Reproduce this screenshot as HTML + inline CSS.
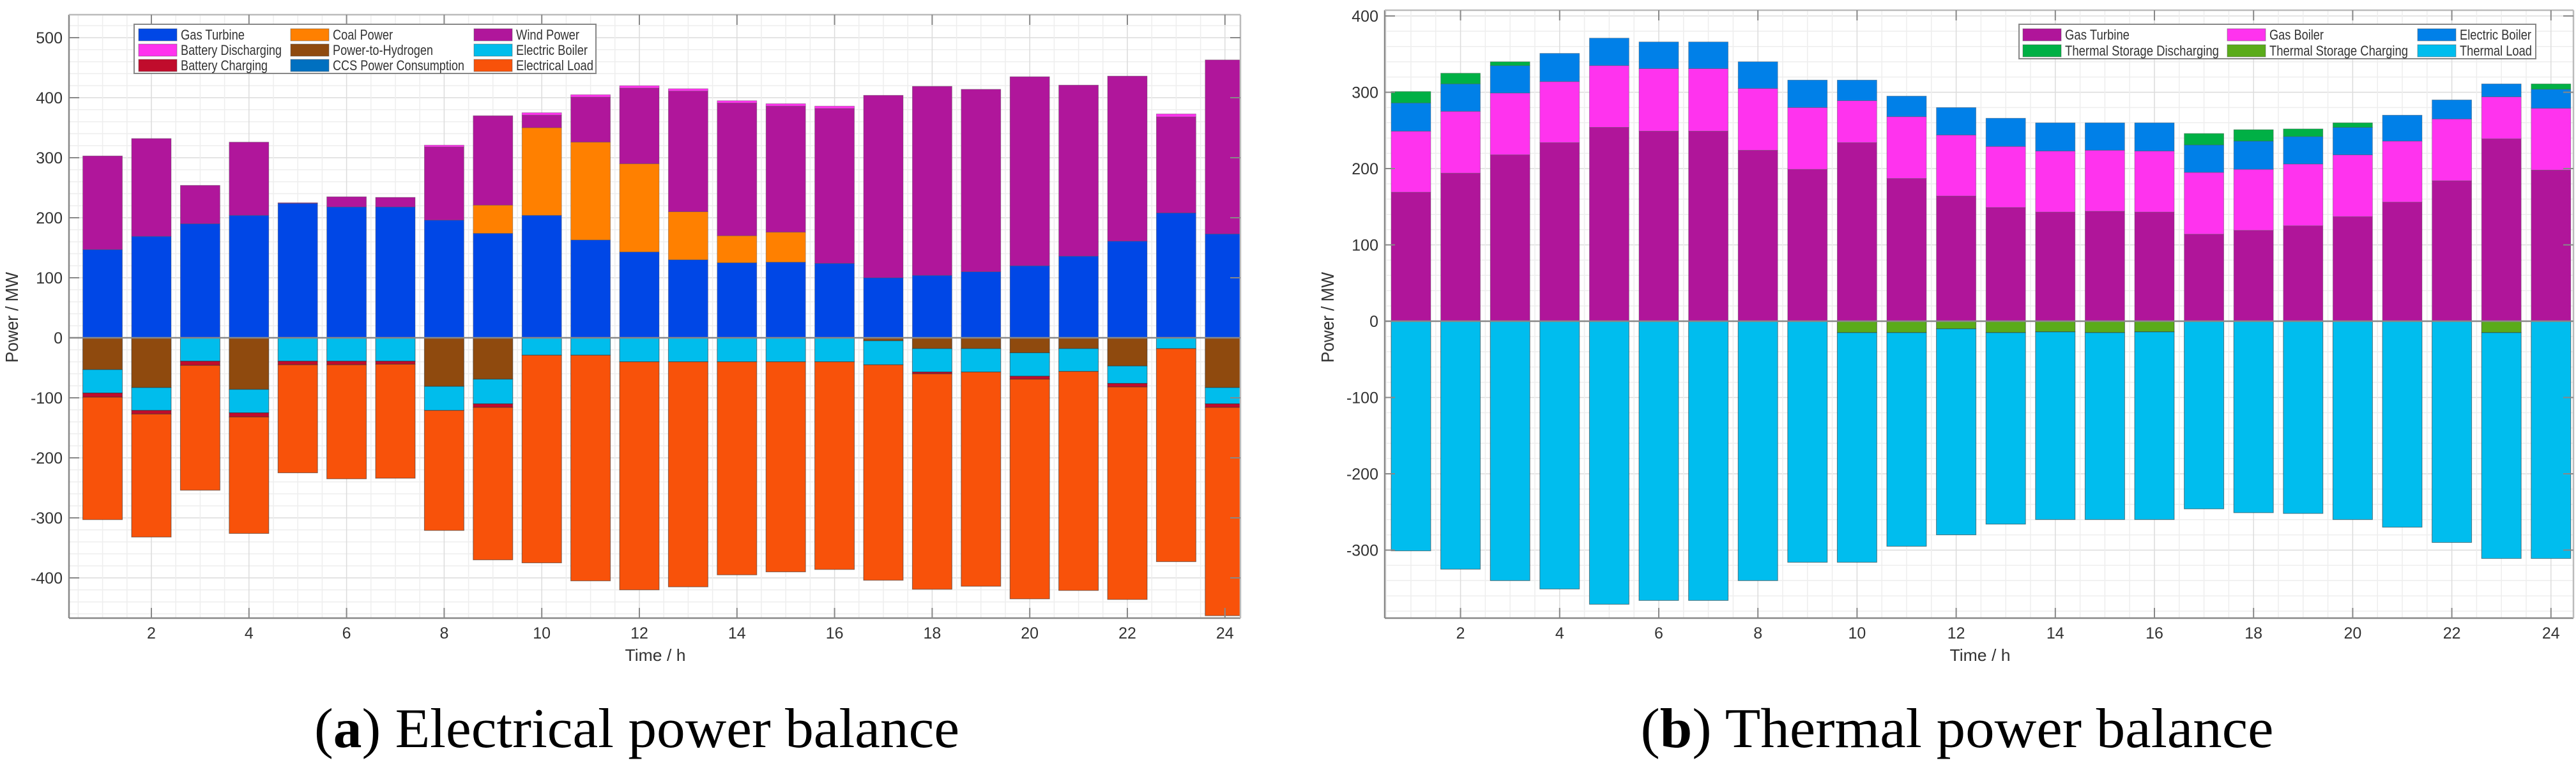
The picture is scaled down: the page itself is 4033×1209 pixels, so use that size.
<!DOCTYPE html>
<html><head><meta charset="utf-8"><style>html,body{margin:0;padding:0;background:#fff}svg{display:block}</style></head>
<body>
<svg id="root" xmlns="http://www.w3.org/2000/svg" width="4033" height="1209" viewBox="0 0 4033 1209" font-family="Liberation Sans, sans-serif">
<rect width="4033" height="1209" fill="#fff"/>
<g id="chartA"></g>
<g id="chartB"></g>
<text x="997" y="1170" font-family="Liberation Serif, serif" font-size="88" text-anchor="middle" textLength="1010" lengthAdjust="spacingAndGlyphs">(<tspan font-weight="bold">a</tspan>) Electrical power balance</text>
<text x="3064" y="1170" font-family="Liberation Serif, serif" font-size="88" text-anchor="middle" textLength="991" lengthAdjust="spacingAndGlyphs">(<tspan font-weight="bold">b</tspan>) Thermal power balance</text>
</svg>
<script>
// ---- Chart A data (electrical) ----
const hours = [1,2,3,4,5,6,7,8,9,10,11,12,13,14,15,16,17,18,19,20,21,22,23,24];
const gasTurbineE = [147,169,190,204,224,218,218,196,174,204,163,143,130,125,126,124,100,104,110,120,136,161,208,173];
const coalPower = [0,0,0,0,0,0,0,0,47,146,163,147,80,45,50,0,0,0,0,0,0,0,0,0];
const windPower = [156,163,64,122,1,17,16,122,149,21,75,126,201,221,210,258,304,315,304,315,285,275,160,290];
const batteryDischarging = [0,0,0,0,0,0,0,3,0,4,4,4,4,4,4,4,0,0,0,0,0,0,5,0];
const powerToHydrogen = [53,83,0,86,0,0,0,81,69,0,0,0,0,0,0,0,5,18,18,25,18,47,0,83];
const electricBoilerE = [39,38,39,39,39,39,39,40,41,29,29,40,40,40,40,40,40,39,39,39,38,29,18,27];
const batteryCharging = [7,6,7,7,6,6,5,0,6,0,0,0,0,0,0,0,0,3,0,5,0,6,0,6];
const ccsConsumption = [0,0,0,0,0,0,0,0,0,0,0,0,0,0,0,0,0,0,0,0,0,0,0,0];
const electricalLoad = [204,205,208,194,180,190,190,200,254,346,376,380,375,355,350,346,359,359,357,366,365,354,355,347];
const yTicksA = [-400,-300,-200,-100,0,100,200,300,400,500];
const xTicks = [2,4,6,8,10,12,14,16,18,20,22,24];

// ---- Chart B data (thermal) ----
const gasTurbineT = [169,194,218,234,254,249,249,224,199,234,187,164,149,143,144,143,114,119,125,137,156,184,239,198];
const gasBoiler = [80,81,81,80,81,82,82,81,81,55,81,80,80,80,80,80,81,80,81,81,80,81,55,81];
const electricBoilerT = [37,36,36,37,36,35,35,35,36,27,27,36,37,37,36,37,36,37,36,36,34,25,17,25];
const tsDischarging = [15,14,5,0,0,0,0,0,0,0,0,0,0,0,0,0,15,15,10,6,0,0,0,7];
const tsCharging = [0,0,0,0,0,0,0,0,0,15,15,10,15,14,15,14,0,0,0,0,0,0,15,0];
const thermalLoad = [301,325,340,351,371,366,366,340,316,301,280,270,251,246,245,246,246,251,252,260,270,290,296,311];
const yTicksB = [-300,-200,-100,0,100,200,300,400];

const NS = 'http://www.w3.org/2000/svg';
function mk(parent, tag, attrs){const e=document.createElementNS(NS,tag);for(const k in attrs)e.setAttribute(k,attrs[k]);parent.appendChild(e);return e;}

function drawChart(g, cfg){
  const L=cfg.left,R=cfg.right,T=cfg.top,B=cfg.bottom;
  const xs=h=>cfg.x1+(h-1)*cfg.dx;
  const ys=v=>cfg.y0-v*cfg.py;
  const clipId='clip'+cfg.id;
  const defs=mk(g,'defs',{});
  const cp=mk(defs,'clipPath',{id:clipId});
  mk(cp,'rect',{x:L,y:T,width:R-L,height:B-T});
  const plot=mk(g,'rect',{x:L,y:T,width:R-L,height:B-T,fill:'#fff'});
  
  
  const grid=mk(g,'g',{stroke:'#ececec','stroke-width':1.5});
  
  
  for(let v=Math.ceil(cfg.ymin/20)*20; v<=cfg.ymax; v+=20){const y=ys(v);mk(grid,'line',{x1:L,x2:R,y1:y,y2:y,stroke:(v%100===0)?'#dcdcdc':'#eeeeee'});}
  for(let h=Math.ceil(cfg.hmin*2)/2; h<=cfg.hmax; h+=0.5){const x=xs(h);mk(grid,'line',{x1:x,x2:x,y1:T,y2:B,stroke:(h%2===0)?'#dcdcdc':'#eeeeee'});}
  const bars=mk(g,'g',{'clip-path':'url(#'+clipId+')'});
  
  
  const bw=cfg.bw;
  hours.forEach((h,i)=>{
    let acc=0;
    cfg.pos.forEach(s=>{const v=s.data[i];if(v>0){const r=mk(bars,'rect',{x:xs(h)-bw/2,y:ys(acc+v),width:bw,height:v*cfg.py,fill:s.color,stroke:'#555','stroke-width':0.8,'stroke-opacity':0.5});
      
      }acc+=v;});
    acc=0;
    cfg.neg.forEach(s=>{const v=s.data[i];if(v>0){const r=mk(bars,'rect',{x:xs(h)-bw/2,y:ys(acc),width:bw,height:v*cfg.py,fill:s.color,stroke:'#333','stroke-width':1,'stroke-opacity':0.6});
      
      }acc-=v;});
  });
  mk(g,'line',{x1:L,x2:R,y1:ys(0),y2:ys(0),stroke:'#888','stroke-width':2.5});
  const ax=mk(g,'g',{stroke:'#888','stroke-width':2.5,fill:'none'});
  
  
  mk(ax,'line',{x1:L,x2:L,y1:T,y2:B});
  mk(ax,'line',{x1:L,x2:R,y1:B,y2:B});
  mk(ax,'line',{x1:L,x2:R,y1:T,y2:T,stroke:'#bbb'});
  mk(ax,'line',{x1:R,x2:R,y1:T,y2:B,stroke:'#bbb'});
  cfg.yTicks.forEach(v=>{const y=ys(v);
    mk(g,'line',{x1:L,x2:L+16,y1:y,y2:y,stroke:'#888','stroke-width':2});
    mk(g,'line',{x1:R,x2:R-16,y1:y,y2:y,stroke:'#888','stroke-width':2});
    const t=mk(g,'text',{x:L-10,y:y+9,'font-size':25,'text-anchor':'end',fill:'#333'});
    t.textContent=String(v);
    
    });
  xTicks.forEach(h=>{const x=xs(h);
    mk(g,'line',{x1:x,x2:x,y1:B,y2:B-16,stroke:'#888','stroke-width':2});
    mk(g,'line',{x1:x,x2:x,y1:T,y2:T+16,stroke:'#888','stroke-width':2});
    const t=mk(g,'text',{x:x,y:1000,'font-size':25,'text-anchor':'middle',fill:'#333'});
    t.textContent=String(h);
    
    });
  const xl=mk(g,'text',{x:cfg.xlabelX,y:1035,'font-size':26,'text-anchor':'middle',fill:'#333',textLength:95,lengthAdjust:'spacingAndGlyphs'});
  xl.textContent='Time / h';
  
  
  const yl=mk(g,'text',{x:0,y:0,'font-size':28,'text-anchor':'middle',fill:'#333',transform:'translate('+(cfg.ylabelX+10)+',497) rotate(-90)',textLength:142,lengthAdjust:'spacingAndGlyphs'});
  yl.textContent='Power / MW';
  
  
  const lg=mk(g,'g',{});
  
  
  mk(lg,'rect',{x:cfg.leg.x,y:cfg.leg.y,width:cfg.leg.w,height:cfg.leg.h,fill:'#fff',stroke:'#888','stroke-width':2});
  cfg.leg.items.forEach(it=>{
    const e=mk(lg,'g',{});
    
    
    mk(e,'rect',{x:it.sx,y:it.y-9,width:60,height:19,fill:it.color,stroke:'#555','stroke-width':1,'stroke-opacity':0.5});
    const t=mk(e,'text',{x:it.sx+66,y:it.y+8,'font-size':22,fill:'#333',textLength:it.w,lengthAdjust:'spacingAndGlyphs'});
    t.textContent=it.label;
  });
}

const C={gt:'#0047e6',coal:'#ff8000',wind:'#b0169b',bd:'#ff33ee',p2h:'#8f4a0e',eb:'#00bdec',bc:'#c00c2c',ccs:'#0070c0',load:'#f8520a'};
drawChart(document.getElementById('chartA'),{
  id:'A',left:108,right:1942,top:23,bottom:968,x1:160.6,dx:76.4,y0:529,py:0.94,ymin:-468,ymax:537,hmin:0.33,hmax:24.31,bw:62,
  yTicks:yTicksA,xlabelX:1026,ylabelX:18,
  pos:[{key:'gas-turbine',data:gasTurbineE,color:C.gt},{key:'coal-power',data:coalPower,color:C.coal},{key:'wind-power',data:windPower,color:C.wind},{key:'battery-discharging',data:batteryDischarging,color:C.bd}],
  neg:[{key:'power-to-hydrogen',data:powerToHydrogen,color:C.p2h},{key:'electric-boiler',data:electricBoilerE,color:C.eb},{key:'battery-charging',data:batteryCharging,color:C.bc},{key:'ccs',data:ccsConsumption,color:C.ccs},{key:'electrical-load',data:electricalLoad,color:C.load}],
  leg:{x:210,y:38,w:723,h:77,items:[
    {label:'Gas Turbine',sx:217,y:54,w:100,color:C.gt},
    {label:'Battery Discharging',sx:217,y:78,w:158,color:C.bd},
    {label:'Battery Charging',sx:217,y:102,w:136,color:C.bc},
    {label:'Coal Power',sx:455,y:54,w:94,color:C.coal},
    {label:'Power-to-Hydrogen',sx:455,y:78,w:157,color:C.p2h},
    {label:'CCS Power Consumption',sx:455,y:102,w:206,color:C.ccs},
    {label:'Wind Power',sx:742,y:54,w:99,color:C.wind},
    {label:'Electric Boiler',sx:742,y:78,w:112,color:C.eb},
    {label:'Electrical Load',sx:742,y:102,w:121,color:C.load}]}
});
const D={gt:'#b0159a',gb:'#ff33ee',eb:'#0080e8',tsd:'#00b045',tsc:'#5aab1a',load:'#00bdee'};
drawChart(document.getElementById('chartB'),{
  id:'B',left:2168,right:4029,top:16,bottom:968,x1:2209,dx:77.6,y0:503,py:1.195,ymin:-389,ymax:408,hmin:0.49,hmax:24.47,bw:62,
  yTicks:yTicksB,xlabelX:3100,ylabelX:2078,
  pos:[{key:'gas-turbine',data:gasTurbineT,color:D.gt},{key:'gas-boiler',data:gasBoiler,color:D.gb},{key:'electric-boiler',data:electricBoilerT,color:D.eb},{key:'thermal-storage-discharging',data:tsDischarging,color:D.tsd}],
  neg:[{key:'thermal-storage-charging',data:tsCharging,color:D.tsc},{key:'thermal-load',data:thermalLoad,color:D.load}],
  leg:{x:3161,y:38,w:809,h:54,items:[
    {label:'Gas Turbine',sx:3167,y:54,w:101,color:D.gt},
    {label:'Thermal Storage Discharging',sx:3167,y:79,w:241,color:D.tsd},
    {label:'Gas Boiler',sx:3487,y:54,w:85,color:D.gb},
    {label:'Thermal Storage Charging',sx:3487,y:79,w:217,color:D.tsc},
    {label:'Electric Boiler',sx:3785,y:54,w:112,color:D.eb},
    {label:'Thermal Load',sx:3785,y:79,w:113,color:D.load}]}
});
</script>
</body></html>
